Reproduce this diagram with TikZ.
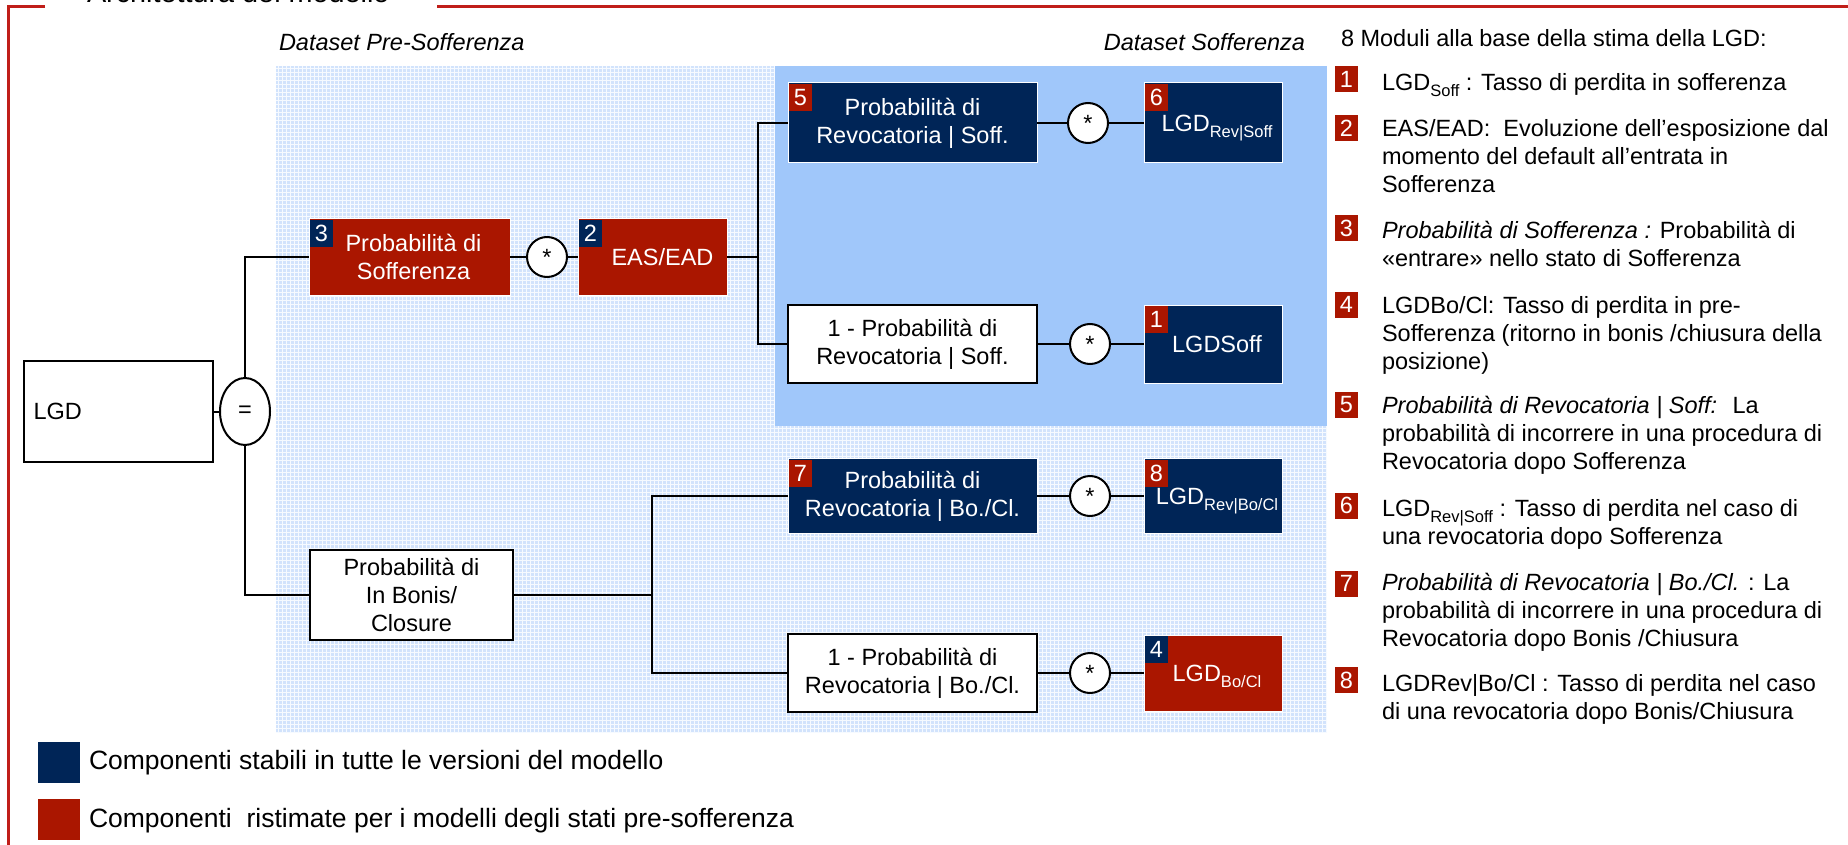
\documentclass[tikz,border=0pt]{standalone}
\usepackage{fontspec}
\setmainfont{Liberation Sans}
\usetikzlibrary{shapes.geometric}
\definecolor{myred}{RGB}{170,22,0}
\definecolor{myblue}{RGB}{0,37,87}
\definecolor{solidblue}{RGB}{160,199,250}
\definecolor{hatchfill}{RGB}{210,227,252}
\definecolor{hatchline}{RGB}{246,250,255}
\definecolor{framered}{RGB}{192,30,25}
\newcommand\fsz{\fontsize{23.5}{28}\selectfont}
\newcommand\subt[1]{\raisebox{-6pt}{\fontsize{16.5}{18}\selectfont #1}}
\begin{document}
\begin{tikzpicture}[x=1pt,y=-1pt,
  every node/.style={font=\fsz, inner sep=0pt, outer sep=0pt},
  redbox/.style={rectangle, fill=myred, draw=white, line width=1pt, text=white, align=center},
  bluebox/.style={rectangle, fill=myblue, draw=white, line width=1pt, text=white, align=center},
  whitebox/.style={rectangle, fill=white, draw=black, line width=2pt, text=black, align=center},
  opcirc/.style={circle, draw=black, fill=white, line width=2pt, minimum size=40pt},
  badgered/.style={rectangle, fill=myred, text=white, minimum width=23pt, minimum height=27pt, anchor=north west},
  badgeblue/.style={rectangle, fill=myblue, text=white, minimum width=23pt, minimum height=27pt, anchor=north west},
  listbadge/.style={rectangle, fill=myred, text=white, minimum width=23pt, minimum height=26pt},
  conn/.style={draw=black, line width=2pt},
  oneline/.style={text height=17pt, text depth=-1.5pt},
  itm/.style={anchor=north west, align=left, text=black},
  legtext/.style={anchor=west, font=\fontsize{26.5}{30}\selectfont, text=black}
]
\useasboundingbox (0,0) rectangle (1848,845);
\fill[white] (0,0) rectangle (1848,845);

% hatched pre-sofferenza area
\fill[hatchfill] (276,66) rectangle (1327,733);
\begin{scope}[hatchline, line width=0.8pt]
  \foreach \x in {278,282,...,1326} \draw (\x,66) -- (\x,733);
  \foreach \y in {68,72,...,732} \draw (276,\y) -- (1327,\y);
\end{scope}
% solid sofferenza area
\fill[solidblue] (775,66) rectangle (1327,426);

% frame and title
\draw[framered, line width=2.4pt] (45,6.5) -- (8.5,6.5) -- (8.5,845);
\draw[framered, line width=2.4pt] (437,6.5) -- (1848,6.5);
\begin{scope}
  \clip (0,0) rectangle (1848,845);
  \node[anchor=base west, font=\fontsize{28.8}{32}\selectfont] (title) at (87,3) {Architettura del modello};
\end{scope}

\node[anchor=base west, font=\fsz\itshape] (dpre) at (279,51) {Dataset Pre-Sofferenza};
\node[anchor=base east, font=\fsz\itshape] (dsof) at (1305,51) {Dataset Sofferenza};

% main boxes
\node[whitebox, minimum width=189pt, minimum height=101pt, text width=170pt, align=left] (lgd) at (118.5,411.5) {LGD};
\node[ellipse, draw=black, fill=white, line width=2pt, minimum width=50pt, minimum height=67pt] (eq) at (245,411.5) {\raisebox{-4pt}{=}};

\node[redbox, minimum width=201pt, minimum height=76pt] (box3) at (409.5,257) {\hspace*{8pt}Probabilità di\\\hspace*{8pt}Sofferenza};
\node[badgeblue] (b3) at ([shift={(1,1)}]box3.north west) {3};
\node[opcirc] (st1) at (547,257) {*};
\node[redbox, oneline, minimum width=149pt, minimum height=76pt] (box2) at (652.5,257) {\hspace*{20pt}EAS/EAD};
\node[badgeblue] (b2) at ([shift={(1,1)}]box2.north west) {2};

\node[bluebox, minimum width=249pt, minimum height=80pt] (box5) at (912.5,123) {Probabilità di\\Revocatoria | Soff.};
\node[badgered] (b5) at ([shift={(1,1)}]box5.north west) {5};
\node[opcirc] (st2) at (1088,123) {*};
\node[bluebox, oneline, minimum width=138pt, minimum height=80pt] (box6) at (1213,123) {\hspace*{8pt}LGD\subt{Rev|Soff}};
\node[badgered] (b6) at ([shift={(1,1)}]box6.north west) {6};

\node[whitebox, minimum width=249pt, minimum height=78pt] (wb1) at (912.5,344) {1 - Probabilità di\\Revocatoria | Soff.};
\node[opcirc] (st3) at (1090,344) {*};
\node[bluebox, oneline, minimum width=138pt, minimum height=78pt] (box1) at (1213,344) {\hspace*{8pt}LGDSoff};
\node[badgered] (b1) at ([shift={(1,1)}]box1.north west) {1};

\node[whitebox, minimum width=203pt, minimum height=90pt] (inb) at (411.5,595) {Probabilità di\\In Bonis/\\Closure};

\node[bluebox, minimum width=249pt, minimum height=75pt] (box7) at (912.5,496) {Probabilità di\\Revocatoria | Bo./Cl.};
\node[badgered] (b7) at ([shift={(1,1)}]box7.north west) {7};
\node[opcirc] (st4) at (1090,496) {*};
\node[bluebox, oneline, minimum width=138pt, minimum height=75pt] (box8) at (1213,496) {\hspace*{8pt}LGD\subt{Rev|Bo/Cl}};
\node[badgered] (b8) at ([shift={(1,1)}]box8.north west) {8};

\node[whitebox, minimum width=249pt, minimum height=78pt] (wb2) at (912.5,673) {1 - Probabilità di\\Revocatoria | Bo./Cl.};
\node[opcirc] (st5) at (1090,673) {*};
\node[redbox, oneline, minimum width=138pt, minimum height=76pt] (box4) at (1213,673) {\hspace*{8pt}LGD\subt{Bo/Cl}};
\node[badgeblue] (b4) at ([shift={(1,1)}]box4.north west) {4};

% connectors
\coordinate (j1) at (758,257);
\coordinate (j2) at (652,595);
\draw[conn] (lgd) -- (eq);
\draw[conn] (eq.north) |- (box3.west);
\draw[conn] (eq.south) |- (inb.west);
\draw[conn] (box3) -- (st1);
\draw[conn] (st1) -- (box2);
\draw[conn] (box2.east) -- (j1);
\draw[conn] (box5.west) -| (j1) |- (wb1.west);
\draw[conn] (box5) -- (st2);
\draw[conn] (st2) -- (box6);
\draw[conn] (wb1) -- (st3);
\draw[conn] (st3) -- (box1);
\draw[conn] (inb.east) -- (j2);
\draw[conn] (box7.west) -| (j2) |- (wb2.west);
\draw[conn] (box7) -- (st4);
\draw[conn] (st4) -- (box8);
\draw[conn] (wb2) -- (st5);
\draw[conn] (st5) -- (box4);

% legend
\node[fill=myblue, minimum width=42pt, minimum height=41pt] (lg1) at (59,762.5) {};
\node[legtext] (lt1) at (89,763) {Componenti stabili in tutte le versioni del modello};
\node[fill=myred, minimum width=42pt, minimum height=41pt] (lg2) at (59,819.5) {};
\node[legtext] (lt2) at (89,821) {Componenti~ ristimate per i modelli degli stati pre-sofferenza};

% right list
\node[anchor=base west] (head) at (1341,47) {8 Moduli alla base della stima della LGD:};
\node[listbadge] (n1) at (1346.5,79) {1};
\node[itm] (i1) at (1382,71.4) {\strut LGD\subt{Soff} : Tasso di perdita in sofferenza};
\node[listbadge] (n2) at (1346.5,128) {2};
\node[itm] (i2) at (1382,117.4) {\strut EAS/EAD:~ Evoluzione dell’esposizione dal\\momento del default all’entrata in\\Sofferenza};
\node[listbadge] (n3) at (1346.5,228.5) {3};
\node[itm] (i3) at (1382,218.4) {\strut\textit{Probabilità di Sofferenza :} Probabilità di\\«entrare» nello stato di Sofferenza};
\node[listbadge] (n4) at (1346.5,304.5) {4};
\node[itm] (i4) at (1382,293.4) {\strut LGDBo/Cl: Tasso di perdita in pre-\\Sofferenza (ritorno in bonis /chiusura della\\posizione)};
\node[listbadge] (n5) at (1346.5,404.5) {5};
\node[itm] (i5) at (1382,393.4) {\strut\textit{Probabilità di Revocatoria | Soff:}~ La\\probabilità di incorrere in una procedura di\\Revocatoria dopo Sofferenza};
\node[listbadge] (n6) at (1346.5,505.5) {6};
\node[itm] (i6) at (1382,496.4) {\strut LGD\subt{Rev|Soff} : Tasso di perdita nel caso di\\una revocatoria dopo Sofferenza};
\node[listbadge] (n7) at (1346.5,583.5) {7};
\node[itm] (i7) at (1382,570.4) {\strut\textit{Probabilità di Revocatoria | Bo./Cl.} : La\\probabilità di incorrere in una procedura di\\Revocatoria dopo Bonis /Chiusura};
\node[listbadge] (n8) at (1346.5,680) {8};
\node[itm] (i8) at (1382,671.4) {\strut LGDRev|Bo/Cl : Tasso di perdita nel caso\\di una revocatoria dopo Bonis/Chiusura};
\end{tikzpicture}
\end{document}
